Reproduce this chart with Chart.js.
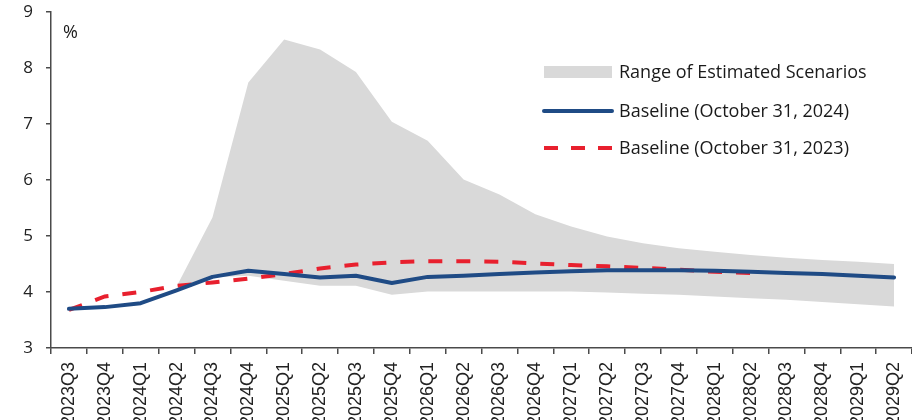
<!DOCTYPE html>
<html>
<head>
<meta charset="utf-8">
<script src="https://cdn.jsdelivr.net/npm/chart.js@4/dist/chart.umd.min.js"></script>
<style>
  html, body { margin: 0; padding: 0; background: #fff; overflow: hidden; }
  #wrap { position: relative; width: 912px; height: 420px; overflow: hidden; }
  #c { position: absolute; left: 0; top: 0; }
  .lg { position: absolute; font-family: "Open Sans", "Noto Sans", sans-serif; font-size: 18px; color: #1a1a1a; height: 22px; line-height: 22px; white-space: nowrap; }
  .unit { position: absolute; left: 63px; top: 19px; font-family: "Open Sans", "Noto Sans", sans-serif; font-size: 18px; color: #1a1a1a; }
</style>
</head>
<body>
<div id="wrap">
  <canvas id="c" width="912" height="420"></canvas>
  <div class="unit">%</div>
  <div style="position:absolute;left:544px;top:66px;width:68px;height:12px;background:#d9d9d9;"></div>
  <div class="lg" style="left:619px;top:60px;">Range of Estimated Scenarios</div>
  <svg style="position:absolute;left:540px;top:103px;" width="76" height="16">
    <line x1="4" y1="8" x2="72" y2="8" stroke="#1f4b85" stroke-width="4" stroke-linecap="round"/>
  </svg>
  <div class="lg" style="left:619px;top:99px;">Baseline (October 31, 2024)</div>
  <svg style="position:absolute;left:540px;top:140px;" width="76" height="16">
    <line x1="4" y1="8" x2="72" y2="8" stroke="#e8202e" stroke-width="4" stroke-dasharray="14 13"/>
  </svg>
  <div class="lg" style="left:619px;top:136px;">Baseline (October 31, 2023)</div>
</div>
<script>
const categories = ['2023Q3','2023Q4','2024Q1','2024Q2','2024Q3','2024Q4','2025Q1','2025Q2','2025Q3','2025Q4','2026Q1','2026Q2','2026Q3','2026Q4','2027Q1','2027Q2','2027Q3','2027Q4','2028Q1','2028Q2','2028Q3','2028Q4','2029Q1','2029Q2'];
const baseline2024 = [3.70,3.73,3.80,4.03,4.27,4.38,4.32,4.26,4.29,4.16,4.27,4.29,4.32,4.35,4.37,4.39,4.39,4.39,4.38,4.36,4.34,4.32,4.29,4.26];
const baseline2023 = [3.68,3.92,4.00,4.11,4.17,4.24,4.32,4.42,4.49,4.53,4.55,4.55,4.54,4.51,4.48,4.46,4.43,4.40,4.36,4.34,null,null,null,null];
const rangeLow  = [3.70,3.73,3.80,4.10,4.26,4.29,4.20,4.11,4.11,3.95,4.01,4.01,4.01,4.01,4.01,3.99,3.97,3.95,3.92,3.89,3.86,3.82,3.78,3.74];
const rangeHigh = [3.70,3.73,3.80,4.10,5.33,7.74,8.51,8.33,7.93,7.04,6.70,6.01,5.74,5.39,5.17,4.99,4.87,4.78,4.72,4.66,4.61,4.57,4.54,4.50];
const yTicks = [3,4,5,6,7,8,9];

const axisColor = '#4a4a4a';
new Chart(document.getElementById('c'), {
  type: 'line',
  data: {
    labels: categories,
    datasets: [
      { label: 'Baseline (October 31, 2024)', data: baseline2024, borderColor: '#1f4b85', borderWidth: 4, pointRadius: 0, tension: 0, borderCapStyle: 'round', borderJoinStyle: 'round', fill: false },
      { label: 'Baseline (October 31, 2023)', data: baseline2023, borderColor: '#e8202e', borderWidth: 4, borderDash: [14, 14], pointRadius: 0, tension: 0, fill: false },
      { label: 'low', data: rangeLow, borderWidth: 0, borderColor: 'rgba(0,0,0,0)', pointRadius: 0, tension: 0, fill: false },
      { label: 'Range of Estimated Scenarios', data: rangeHigh, borderWidth: 0, borderColor: 'rgba(0,0,0,0)', backgroundColor: '#d9d9d9', pointRadius: 0, tension: 0, fill: '-1' }
    ]
  },
  options: {
    responsive: false,
    animation: false,
    events: [],
    layout: { padding: { left: 0, right: 0, top: 12, bottom: 0 } },
    plugins: { legend: { display: false }, tooltip: { enabled: false } },
    scales: {
      x: {
        type: 'category',
        offset: true,
        grid: { display: true, offset: true, drawOnChartArea: false, drawTicks: true, tickLength: 6, color: axisColor, lineWidth: 1.5 },
        border: { display: true, color: axisColor, width: 1.5 },
        ticks: { autoSkip: false, minRotation: 90, maxRotation: 90, padding: 8, color: '#222', font: { family: 'Liberation Sans', size: 18 } },
        afterFit: (s) => { s.height = 72; s.paddingLeft = 0; s.paddingRight = 0; }
      },
      y: {
        min: 3, max: 9,
        afterBuildTicks: (s) => { s.ticks = yTicks.map(v => ({ value: v })); },
        grid: { display: true, drawOnChartArea: false, drawTicks: true, tickLength: 5, color: axisColor, lineWidth: 1.5 },
        border: { display: true, color: axisColor, width: 1.5 },
        ticks: { padding: 13, color: '#222', font: { family: 'Open Sans', size: 17 } },
        afterFit: (s) => { s.width = 51; s.paddingTop = 0; s.paddingBottom = 0; }
      }
    }
  }
});
</script>
</body>
</html>
